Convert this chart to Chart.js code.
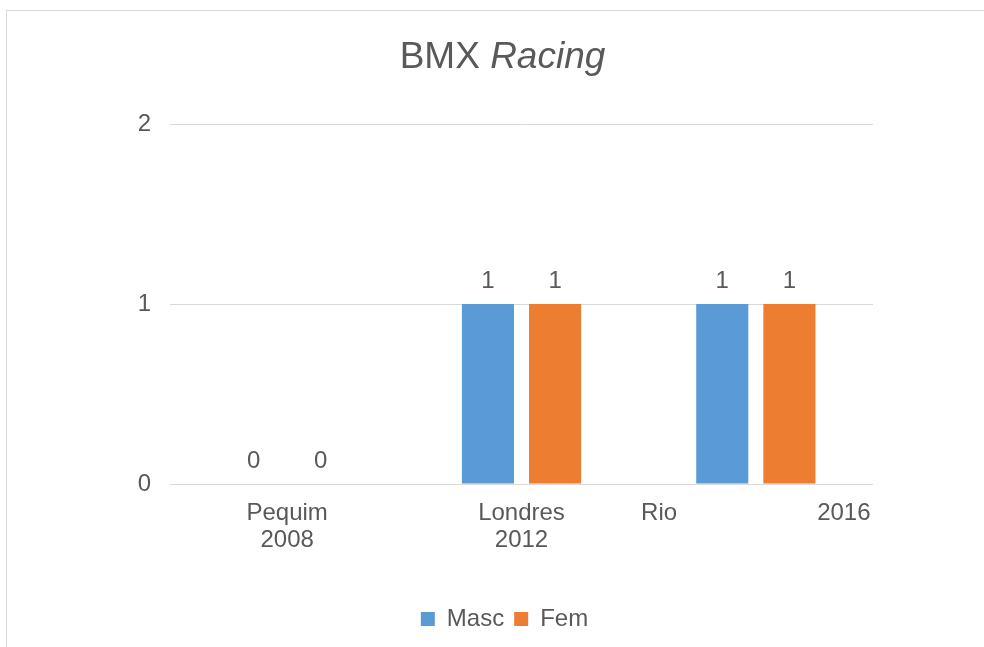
<!DOCTYPE html>
<html>

<head>
    <meta charset="utf-8">
    <script src="https://cdn.jsdelivr.net/npm/chart.js@4.4.0/dist/chart.umd.min.js"></script>
    <style>
        html, body {
            margin: 0;
            padding: 0;
            background: #ffffff;
            overflow: hidden;
        }

        #frame {
            position: absolute;
            left: 6px;
            top: 10px;
            width: 1000px;
            height: 660px;
            border-left: 1px solid #d9d9d9;
            border-top: 1px solid #d9d9d9;
        }
    </style>
</head>

<body>
    <div id="frame">
        <canvas id="bmxChart" width="995" height="636"></canvas>
    </div>

    <script>
        const categories = [['Pequim', '2008'], ['Londres', '2012'], ['Rio                     2016']];
        const mascValues = [0, 1, 1];
        const femValues = [0, 1, 1];
        const yTicks = [0, 1, 2];

        const textColor = '#595959';
        const fontFamily = '"Liberation Sans", Arial, sans-serif';

        // title with the italic word, drawn on the canvas
        const titlePlugin = {
            id: 'mixedTitle',
            afterDraw(chart) {
                const c = chart.ctx;
                c.save();
                c.fillStyle = textColor;
                c.textBaseline = 'alphabetic';
                c.font = '37px ' + fontFamily;
                const w1 = c.measureText('BMX ').width;
                c.font = 'italic 37px ' + fontFamily;
                const w2 = c.measureText('Racing').width;
                let x = chart.width / 2 - 2 - (w1 + w2) / 2;
                c.font = '37px ' + fontFamily;
                c.textAlign = 'left';
                c.fillText('BMX ', x, 57);
                c.font = 'italic 37px ' + fontFamily;
                c.fillText('Racing', x + w1, 57);
                c.restore();
            }
        };

        // value labels above each bar
        const valueLabels = {
            id: 'valueLabels',
            afterDatasetsDraw(chart) {
                const c = chart.ctx;
                c.save();
                c.fillStyle = textColor;
                c.font = '24px ' + fontFamily;
                c.textAlign = 'center';
                c.textBaseline = 'alphabetic';
                chart.data.datasets.forEach((ds, i) => {
                    chart.getDatasetMeta(i).data.forEach((bar, j) => {
                        c.fillText(String(ds.data[j]), bar.x, bar.y - 16);
                    });
                });
                c.restore();
            }
        };

        const ctx = document.getElementById('bmxChart').getContext('2d');

        const bmxChart = new Chart(ctx, {
            type: 'bar',
            data: {
                labels: categories,
                datasets: [
                    {
                        label: 'Masc',
                        data: mascValues,
                        backgroundColor: '#5B9BD5',
                        categoryPercentage: 0.573,
                        barPercentage: 0.776
                    },
                    {
                        label: 'Fem',
                        data: femValues,
                        backgroundColor: '#ED7D31',
                        categoryPercentage: 0.573,
                        barPercentage: 0.776
                    }
                ]
            },
            options: {
                responsive: false,
                animation: false,
                devicePixelRatio: 1,
                layout: {
                    padding: { top: 113, right: 0, bottom: 6, left: 0 }
                },
                scales: {
                    x: {
                        grid: { display: false, drawTicks: false },
                        border: { display: false },
                        ticks: {
                            color: textColor,
                            font: { family: fontFamily, size: 24, lineHeight: 1.13 },
                            padding: 16,
                            maxRotation: 0,
                            autoSkip: false
                        },
                        afterFit(scale) { scale.height = 113; }
                    },
                    y: {
                        min: 0,
                        max: 2,
                        afterBuildTicks(scale) {
                            scale.ticks = yTicks.map(v => ({ value: v }));
                        },
                        grid: { color: '#d9d9d9', lineWidth: 1, drawTicks: false },
                        border: { display: false },
                        ticks: {
                            color: textColor,
                            font: { family: fontFamily, size: 24 },
                            padding: 19
                        },
                        afterFit(scale) { scale.width = 163; }
                    },
                    // empty right-hand space so the legend stays centred on the frame
                    yRight: {
                        position: 'right',
                        min: 0,
                        max: 2,
                        grid: { display: false, drawTicks: false },
                        border: { display: false },
                        ticks: { display: false },
                        afterFit(scale) { scale.width = 129; }
                    }
                },
                plugins: {
                    legend: {
                        position: 'bottom',
                        labels: {
                            color: textColor,
                            font: { family: fontFamily, size: 24 },
                            boxWidth: 14,
                            boxHeight: 14,
                            padding: 10
                        }
                    },
                    title: { display: false },
                    tooltip: { enabled: false }
                }
            },
            plugins: [titlePlugin, valueLabels]
        });
    </script>
</body>

</html>
